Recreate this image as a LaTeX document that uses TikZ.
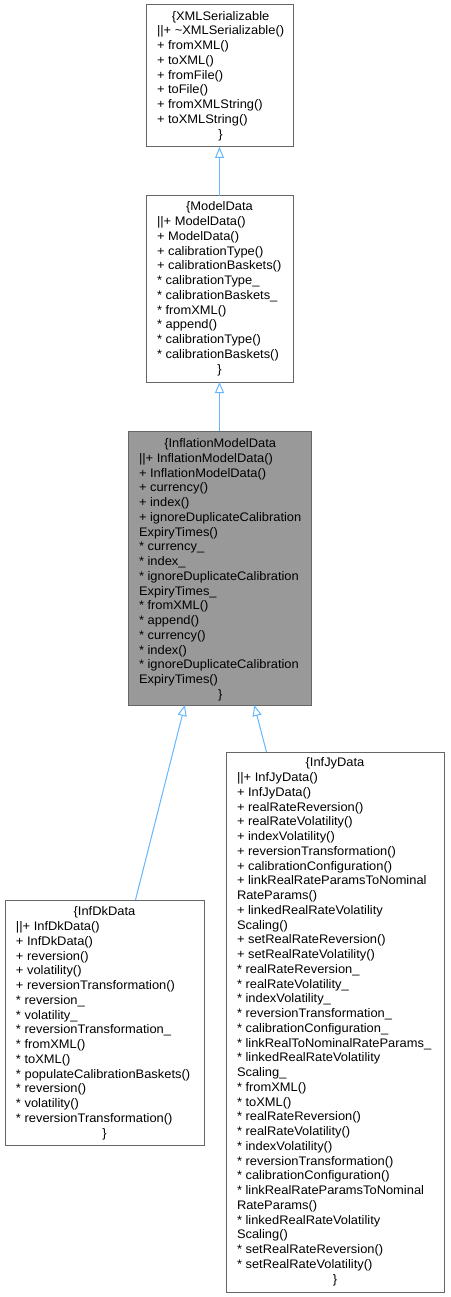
\documentclass[tikz,border=0pt]{standalone}
\usepackage{fontspec}
\setmainfont[FakeStretch=1.04]{Liberation Sans}
\usetikzlibrary{arrows.meta}
\definecolor{edgeblue}{HTML}{63B8FF}
\definecolor{boxline}{HTML}{666666}
\definecolor{rootfill}{HTML}{999999}
\newcommand\centrow[2]{\multicolumn{1}{@{}c@{}}{\makebox[#1][c]{#2}}}
\newcommand\st{{*}}
\begin{document}
\begin{tikzpicture}[x=1pt,y=-1pt,
  cls/.style={draw=boxline, line width=1pt, fill=white, inner sep=0pt, outer sep=0pt},
  rootcls/.style={cls, fill=rootfill},
  txt/.style={inner sep=0pt, outer sep=0pt, anchor=base west, font=\fontsize{12.4}{14.75}\selectfont},
  inh/.style={draw=edgeblue, line width=1pt, -{Triangle[open, length=11pt, width=9pt, line width=1pt]}}]
\useasboundingbox[fill=white] (0,0) rectangle (450,1297);

% boxes
\node[cls, minimum width=147pt, minimum height=142pt] (xml) at (219.5,76) {};
\node[cls, minimum width=147pt, minimum height=186pt] (md) at (219.5,289) {};
\node[rootcls, minimum width=183pt, minimum height=274pt] (imd) at (219.5,568) {};
\node[cls, minimum width=199pt, minimum height=245pt] (dk) at (104.5,1022.5) {};
\node[cls, minimum width=218pt, minimum height=540pt] (jy) at (335,1022) {};

% texts
\node[txt] (xmlT) at (157,20.2) {\begin{tabular}[t]{@{}l@{}}
\centrow{125pt}{\{XMLSerializable}\\
||+ \textasciitilde XMLSerializable()\\
+ fromXML()\\
+ toXML()\\
+ fromFile()\\
+ toFile()\\
+ fromXMLString()\\
+ toXMLString()\\
\centrow{125pt}{\}}
\end{tabular}};

\node[txt] (mdT) at (157,210.9) {\begin{tabular}[t]{@{}l@{}}
\centrow{125pt}{\{ModelData}\\
||+ ModelData()\\
+ ModelData()\\
+ calibrationType()\\
+ calibrationBaskets()\\
\st{} calibrationType\_\\
\st{} calibrationBaskets\_\\
\st{} fromXML()\\
\st{} append()\\
\st{} calibrationType()\\
\st{} calibrationBaskets()\\
\centrow{125pt}{\}}
\end{tabular}};

\node[txt] (imdT) at (139,447.5) {\begin{tabular}[t]{@{}l@{}}
\centrow{161pt}{\{InflationModelData}\\
||+ InflationModelData()\\
+ InflationModelData()\\
+ currency()\\
+ index()\\
+ ignoreDuplicateCalibration\\
ExpiryTimes()\\
\st{} currency\_\\
\st{} index\_\\
\st{} ignoreDuplicateCalibration\\
ExpiryTimes\_\\
\st{} fromXML()\\
\st{} append()\\
\st{} currency()\\
\st{} index()\\
\st{} ignoreDuplicateCalibration\\
ExpiryTimes()\\
\centrow{161pt}{\}}
\end{tabular}};

\node[txt] (dkT) at (16,915.9) {\begin{tabular}[t]{@{}l@{}}
\centrow{177pt}{\{InfDkData}\\
||+ InfDkData()\\
+ InfDkData()\\
+ reversion()\\
+ volatility()\\
+ reversionTransformation()\\
\st{} reversion\_\\
\st{} volatility\_\\
\st{} reversionTransformation\_\\
\st{} fromXML()\\
\st{} toXML()\\
\st{} populateCalibrationBaskets()\\
\st{} reversion()\\
\st{} volatility()\\
\st{} reversionTransformation()\\
\centrow{177pt}{\}}
\end{tabular}};

\node[txt] (jyT) at (237,766.9) {\begin{tabular}[t]{@{}l@{}}
\centrow{196pt}{\{InfJyData}\\
||+ InfJyData()\\
+ InfJyData()\\
+ realRateReversion()\\
+ realRateVolatility()\\
+ indexVolatility()\\
+ reversionTransformation()\\
+ calibrationConfiguration()\\
+ linkRealRateParamsToNominal\\
RateParams()\\
+ linkedRealRateVolatility\\
Scaling()\\
+ setRealRateReversion()\\
+ setRealRateVolatility()\\
\st{} realRateReversion\_\\
\st{} realRateVolatility\_\\
\st{} indexVolatility\_\\
\st{} reversionTransformation\_\\
\st{} calibrationConfiguration\_\\
\st{} linkRealToNominalRateParams\_\\
\st{} linkedRealRateVolatility\\
Scaling\_\\
\st{} fromXML()\\
\st{} toXML()\\
\st{} realRateReversion()\\
\st{} realRateVolatility()\\
\st{} indexVolatility()\\
\st{} reversionTransformation()\\
\st{} calibrationConfiguration()\\
\st{} linkRealRateParamsToNominal\\
RateParams()\\
\st{} linkedRealRateVolatility\\
Scaling()\\
\st{} setRealRateReversion()\\
\st{} setRealRateVolatility()\\
\centrow{196pt}{\}}
\end{tabular}};

% inheritance edges
\draw[inh] (md) -- (xml);
\draw[inh] (imd) -- (md);
\draw[inh] (dk) -- (imd);
\draw[inh] (jy) -- (imd);
\end{tikzpicture}
\end{document}
